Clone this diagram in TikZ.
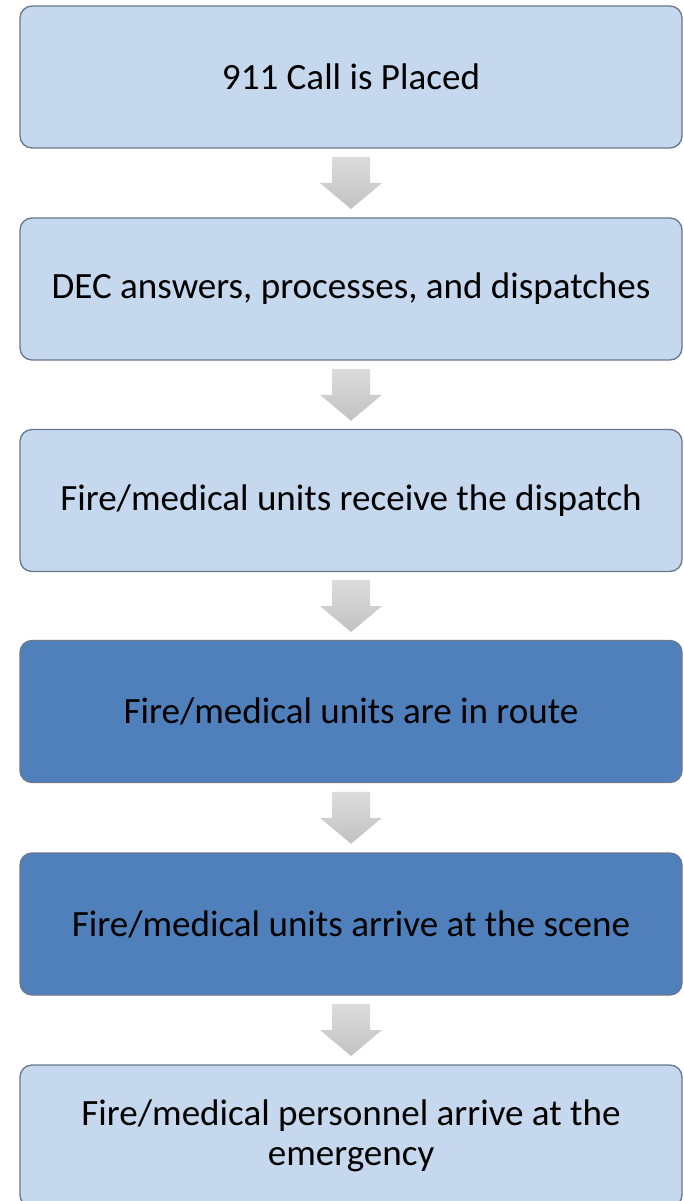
\documentclass[tikz,border=0pt]{standalone}
\usepackage{fontspec}
\setmainfont{Carlito}
\usetikzlibrary{calc}

\definecolor{lightbox}{HTML}{C6D8EE}
\definecolor{darkbox}{HTML}{4F80BC}
\definecolor{boxline}{HTML}{69788A}
\definecolor{arrowtop}{HTML}{DCDCDC}
\definecolor{arrowbot}{HTML}{C2C2C2}

\tikzset{every picture/.style={line width=0.75pt}}
\tikzset{
  flowbox/.style={draw=boxline, line width=1pt, rounded corners=9pt, minimum width=496.5pt,
    minimum height=106.5pt, align=center, font=\fontsize{27.8}{30}\selectfont},
  lightstep/.style={flowbox, fill=lightbox},
  darkstep/.style={flowbox, fill=darkbox},
  blockarrow/.style={top color=arrowtop, bottom color=arrowbot, draw=none}
}

\begin{document}
\begin{tikzpicture}[x=0.75pt,y=0.75pt,yscale=-1,xscale=1]

\useasboundingbox (0,0) rectangle (683,1201);

\node [lightstep] (call) at (351,77) {911 Call is Placed};
\node [lightstep] (dec) at (351,289) {DEC answers, processes, and dispatches};
\node [lightstep] (receive) at (351,500.5) {Fire/medical units receive the dispatch};
\node [darkstep] (route) at (351,711.5) {Fire/medical units are in route};
\node [darkstep] (scene) at (351,924) {Fire/medical units arrive at the scene};
\node [lightstep] (arrive) at (351,1136) {Fire/medical personnel arrive at the\\emergency};

% gray block arrows between the steps
\foreach \a/\b in {call/dec, dec/receive, receive/route, route/scene, scene/arrive} {
  \path (\a.south) -- (\b.north) coordinate[midway] (m);
  \path [blockarrow] ($(m)+(-19,-26)$) -- ($(m)+(19,-26)$) -- ($(m)+(19,0)$) -- ($(m)+(31,0)$)
    -- ($(m)+(0,26)$) -- ($(m)+(-31,0)$) -- ($(m)+(-19,0)$) -- cycle;
}

\end{tikzpicture}
\end{document}
